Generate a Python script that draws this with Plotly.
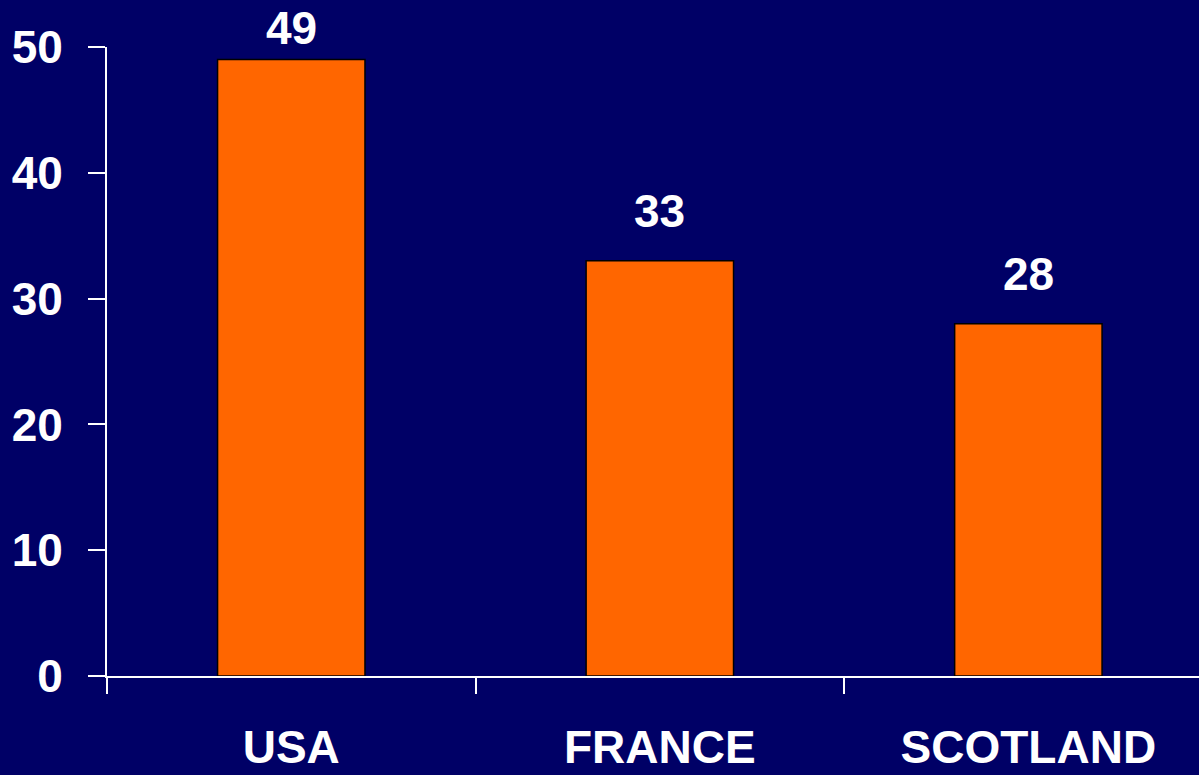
import plotly.graph_objects as go

categories = ["USA", "FRANCE", "SCOTLAND"]
values = [49, 33, 28]
y_ticks = [0, 10, 20, 30, 40, 50]

BG = "#000066"
FONT = "Liberation Sans, Arial, sans-serif"

W, H = 1199, 775
ML, MR, MT, MB = 107, 0, 47, 99
Y_MAX = 50
px_per_unit = (H - MT - MB) / Y_MAX
LABEL_SIZE = 46

fig = go.Figure()
fig.add_trace(go.Bar(
    x=categories, y=values, width=0.4,
    marker=dict(color="#FF6600", line=dict(color="black", width=1.5)),
    hoverinfo="skip",
))

for c, v in zip(categories, values):
    # shift the label up ~22px, but keep it inside the page
    room = MT + (Y_MAX - v) * px_per_unit - 56
    shift = max(2, min(22, room))
    fig.add_annotation(x=c, y=v, text="<b>%d</b>" % v, showarrow=False,
                       yanchor="bottom", yshift=shift,
                       font=dict(family=FONT, size=LABEL_SIZE, color="white"))

fig.update_layout(
    width=W, height=H,
    margin=dict(l=ML, r=MR, t=MT, b=MB, autoexpand=False),
    paper_bgcolor=BG, plot_bgcolor=BG,
    showlegend=False,
    font=dict(family=FONT, color="white"),
    xaxis=dict(
        type="category", range=[-0.5, 2.463], automargin=False,
        tickson="boundaries", ticks="outside", ticklen=16, tickwidth=2,
        tickcolor="white", showline=True, linecolor="white", linewidth=2,
        showgrid=False, zeroline=False,
        tickfont=dict(family=FONT, size=46, color="white"),
        ticklabelstandoff=30,
        tickvals=categories, ticktext=["<b>%s</b>" % c for c in categories],
    ),
    yaxis=dict(
        range=[0, Y_MAX], tickvals=y_ticks, automargin=False,
        ticktext=["<b>%d</b>" % t for t in y_ticks],
        ticks="outside", ticklen=17, tickwidth=2, tickcolor="white",
        showline=True, linecolor="white", linewidth=2,
        showgrid=False, zeroline=False,
        tickfont=dict(family=FONT, size=46, color="white"),
        ticklabelstandoff=16,
    ),
)

fig.write_html("out.html")
